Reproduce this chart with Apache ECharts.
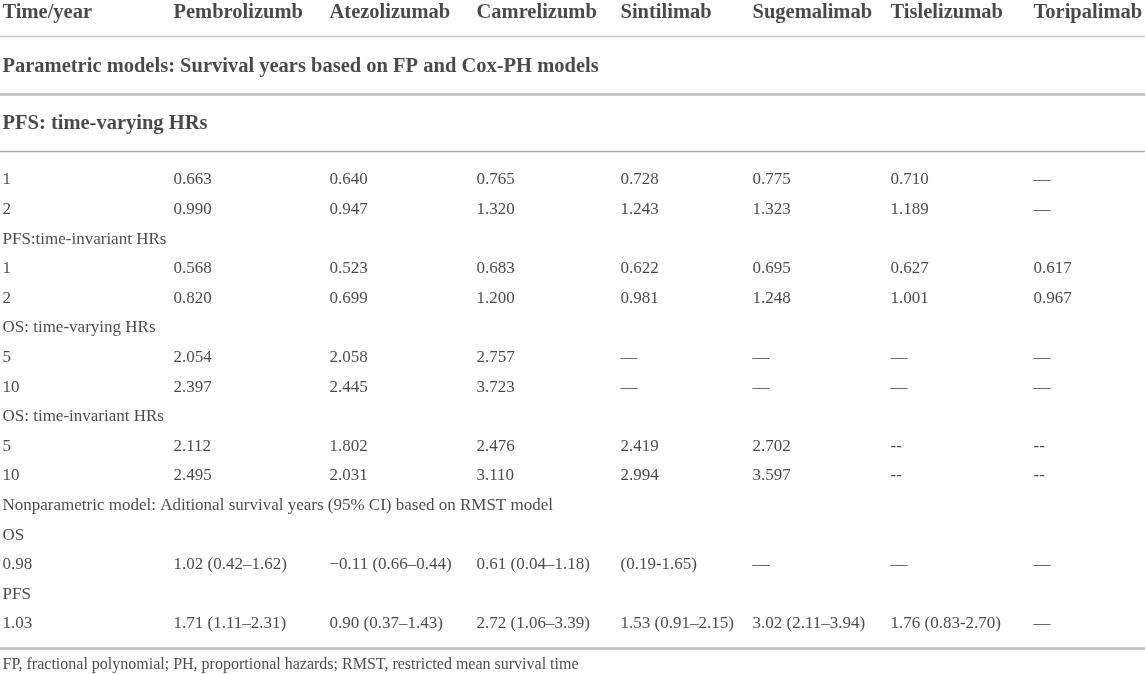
<!DOCTYPE html>
<html lang="en">
<head>
  <meta charset="UTF-8" />
  <title>Survival years table</title>
  <script src="https://cdn.jsdelivr.net/npm/echarts@6/dist/echarts.min.js"></script>
  <style>
    body { margin: 0; background: #fff; }
    #chart { width: 1145px; height: 674px; }
  </style>
</head>
<body>
  <div id="chart"></div>
  <script>
    // table content
    const headers = ['Time/year', 'Pembrolizumb', 'Atezolizumab', 'Camrelizumb', 'Sintilimab', 'Sugemalimab', 'Tislelizumab', 'Toripalimab'];
    const titleParametric = 'Parametric models: Survival years based on FP and Cox-PH models';
    const titlePfsVarying = 'PFS: time-varying HRs';

    const pfsVarying1 = ['0.663', '0.640', '0.765', '0.728', '0.775', '0.710', '—'];
    const pfsVarying2 = ['0.990', '0.947', '1.320', '1.243', '1.323', '1.189', '—'];
    const pfsInvariant1 = ['0.568', '0.523', '0.683', '0.622', '0.695', '0.627', '0.617'];
    const pfsInvariant2 = ['0.820', '0.699', '1.200', '0.981', '1.248', '1.001', '0.967'];
    const osVarying5 = ['2.054', '2.058', '2.757', '—', '—', '—', '—'];
    const osVarying10 = ['2.397', '2.445', '3.723', '—', '—', '—', '—'];
    const osInvariant5 = ['2.112', '1.802', '2.476', '2.419', '2.702', '--', '--'];
    const osInvariant10 = ['2.495', '2.031', '3.110', '2.994', '3.597', '--', '--'];
    const rmstOs = ['1.02 (0.42–1.62)', '−0.11 (0.66–0.44)', '0.61 (0.04–1.18)', '(0.19-1.65)', '—', '—', '—'];
    const rmstPfs = ['1.71 (1.11–2.31)', '0.90 (0.37–1.43)', '2.72 (1.06–3.39)', '1.53 (0.91–2.15)', '3.02 (2.11–3.94)', '1.76 (0.83-2.70)', '—'];
    const footnote = 'FP, fractional polynomial; PH, proportional hazards; RMST, restricted mean survival time';

    // body rows: first cell label, then values (null = section line)
    const bodyRows = [
      ['1', pfsVarying1],
      ['2', pfsVarying2],
      ['PFS:time-invariant HRs', null],
      ['1', pfsInvariant1],
      ['2', pfsInvariant2],
      ['OS: time-varying HRs', null],
      ['5', osVarying5],
      ['10', osVarying10],
      ['OS: time-invariant HRs', null],
      ['5', osInvariant5],
      ['10', osInvariant10],
      ['Nonparametric model: Aditional survival years (95% CI) based on RMST model', null],
      ['OS', null],
      ['0.98', rmstOs],
      ['PFS', null],
      ['1.03', rmstPfs]
    ];

    // layout
    const W = 1145, H = 674;
    const colX = [2, 173, 329, 476, 620, 752, 890, 1033];
    const headerY = 12.5, parametricY = 67, pfsTitleY = 124;
    const bodyY0 = 180, rowStep = 29.6;
    const footY = 665;
    const rules = [
      { y: 36.5, width: 1.5, color: '#c4c4c4' },
      { y: 94.5, width: 2.5, color: '#bdbdbd' },
      { y: 151.5, width: 1.5, color: '#a9a9a9' },
      { y: 648.5, width: 2.5, color: '#bdbdbd' }
    ];

    const ink = '#1e1a1b';
    const font = '"Liberation Serif", "DejaVu Serif", serif';

    const boldCells = [];
    const bodyCells = [];
    headers.forEach((h, i) => boldCells.push([colX[i], headerY, h]));
    boldCells.push([colX[0], parametricY, titleParametric]);
    boldCells.push([colX[0], pfsTitleY, titlePfsVarying]);
    bodyRows.forEach((r, i) => {
      const y = bodyY0 + i * rowStep;
      bodyCells.push([colX[0], y, r[0]]);
      if (r[1]) r[1].forEach((v, j) => bodyCells.push([colX[j + 1], y, v]));
    });
    const footCells = [[colX[0], footY, footnote]];

    const textSeries = (data, size, weight) => ({
      type: 'scatter',
      data: data,
      symbolSize: 1,
      itemStyle: { color: 'rgba(0,0,0,0)' },
      label: {
        show: true,
        position: 'right',
        distance: 0,
        formatter: p => p.value[2],
        color: ink,
        fontFamily: font,
        fontSize: size,
        fontWeight: weight
      },
      labelLayout: { hideOverlap: false },
      silent: true
    });

    const ruleSeries = rules.map(r => ({
      type: 'line',
      data: [[0, r.y], [W, r.y]],
      symbol: 'none',
      lineStyle: { color: r.color, width: r.width },
      silent: true
    }));

    const chart = echarts.init(document.getElementById('chart'));
    chart.setOption({
      animation: false,
      grid: { left: 0, right: 0, top: 0, bottom: 0 },
      xAxis: { type: 'value', min: 0, max: W, show: false },
      yAxis: { type: 'value', min: 0, max: H, inverse: true, show: false },
      series: [
        ...ruleSeries,
        textSeries(boldCells, 20.5, 'bold'),
        textSeries(bodyCells, 17, 'normal'),
        textSeries(footCells, 16, 'normal')
      ]
    });
  </script>
</body>
</html>
